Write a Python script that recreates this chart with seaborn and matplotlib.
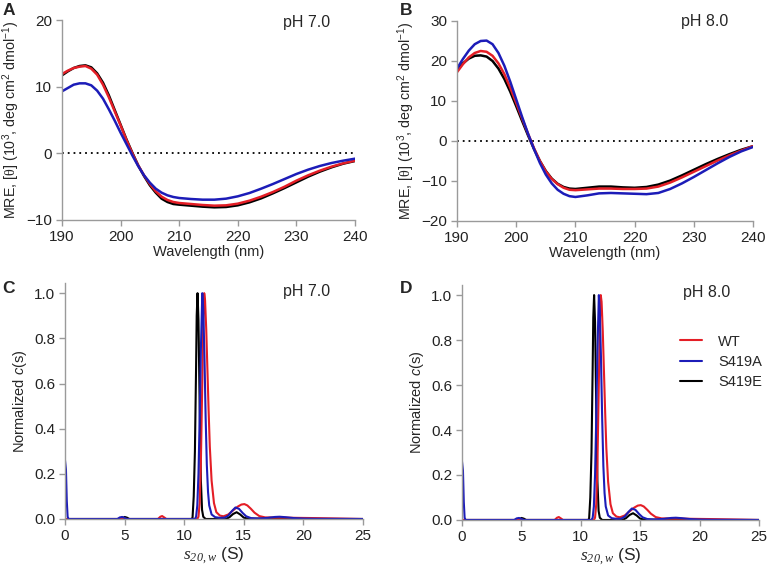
import numpy as np
import pandas as pd
import matplotlib
matplotlib.use("Agg")
import matplotlib.pyplot as plt
from matplotlib.lines import Line2D
import seaborn as sns

# ---------------- data ----------------
wavelength = [190, 191, 192, 193, 194, 195, 196, 197, 198, 199, 200, 201, 202, 203, 204,
              205, 206, 207, 208, 209, 210, 212, 214, 216, 218, 220, 222, 224, 226, 228,
              230, 232, 234, 236, 238, 240]

# pH 7.0 CD (MRE, 10^3 deg cm2 dmol-1)
cd7_wt = [11.9, 12.4, 12.8, 13.0, 13.1, 12.7, 11.8, 10.3, 8.4, 6.3, 4.2, 2.0, 0.0, -1.8, -3.3,
          -4.6, -5.7, -6.5, -7.0, -7.3, -7.45, -7.6, -7.75, -7.85, -7.8, -7.55, -7.1, -6.5, -5.8, -5.0,
          -4.1, -3.3, -2.6, -2.0, -1.5, -1.1]
cd7_s419a = [9.3, 9.8, 10.3, 10.5, 10.5, 10.2, 9.4, 8.2, 6.6, 4.9, 3.1, 1.4, -0.3, -1.9, -3.3,
             -4.4, -5.3, -5.9, -6.3, -6.55, -6.7, -6.85, -6.95, -6.95, -6.8, -6.45, -5.95, -5.3, -4.6, -3.85,
             -3.1, -2.45, -1.9, -1.45, -1.1, -0.8]
cd7_s419e = [11.7, 12.3, 12.8, 13.1, 13.2, 12.9, 12.0, 10.6, 8.7, 6.5, 4.3, 2.1, 0.1, -1.8, -3.4,
             -4.8, -5.9, -6.8, -7.3, -7.6, -7.7, -7.85, -8.0, -8.1, -8.05, -7.8, -7.35, -6.75, -6.0, -5.2,
             -4.35, -3.5, -2.75, -2.1, -1.55, -1.15]

# pH 8.0 CD
cd8_wt = [17.2, 19.2, 20.9, 22.0, 22.5, 22.3, 21.3, 19.4, 16.7, 13.3, 9.5, 5.6, 1.8, -1.8, -5.0,
          -7.6, -9.5, -10.8, -11.7, -12.2, -12.3, -12.1, -11.9, -11.9, -12.0, -12.0, -11.9, -11.4, -10.4, -9.1,
          -7.7, -6.3, -4.9, -3.6, -2.4, -1.3]
cd8_s419a = [18.1, 20.5, 22.6, 24.2, 25.0, 25.1, 24.2, 22.0, 18.8, 14.8, 10.4, 6.0, 1.8, -2.0, -5.5,
             -8.4, -10.6, -12.2, -13.2, -13.8, -14.0, -13.6, -13.1, -13.0, -13.1, -13.2, -13.3, -13.0, -12.0, -10.6,
             -9.0, -7.3, -5.6, -4.0, -2.6, -1.5]
cd8_s419e = [17.7, 19.4, 20.6, 21.3, 21.4, 21.1, 20.0, 18.1, 15.5, 12.3, 8.7, 5.0, 1.4, -2.0, -5.0,
             -7.5, -9.4, -10.7, -11.5, -11.9, -12.0, -11.7, -11.4, -11.4, -11.6, -11.7, -11.5, -10.9, -9.9, -8.6,
             -7.2, -5.8, -4.5, -3.3, -2.2, -1.3]

# c(s) distributions, pH 7.0
cs7_wt_s = [0, 7.8, 8.0, 8.15, 8.35, 8.5, 11.1, 11.2, 11.3, 11.4, 11.5, 11.6, 11.68, 11.75, 11.85,
            11.95, 12.05, 12.15, 12.3, 12.5, 12.7, 13.0, 13.3, 13.7, 14.1, 14.5, 14.8, 15.05, 15.3, 15.6,
            15.9, 16.3, 16.8, 17.5, 18.5, 19.5, 21.0, 23.0, 25.0]
cs7_wt_c = [0, 0, 0.01, 0.013, 0.006, 0, 0, 0.01, 0.07, 0.25, 0.55, 0.88, 1.0, 0.97, 0.84,
            0.66, 0.48, 0.32, 0.17, 0.07, 0.03, 0.015, 0.012, 0.02, 0.038, 0.055, 0.064, 0.066, 0.06, 0.045,
            0.028, 0.013, 0.007, 0.006, 0.006, 0.005, 0.004, 0.002, 0]
cs7_s419a_s = [0, 0.08, 0.15, 0.22, 0.3, 4.4, 4.6, 4.8, 5.0, 5.2, 10.9, 11.0, 11.1, 11.2, 11.3,
               11.4, 11.52, 11.6, 11.7, 11.8, 11.9, 12.0, 12.1, 12.3, 12.6, 13.0, 13.4, 13.7, 14.0, 14.3,
               14.6, 14.9, 15.2, 15.6, 16.2, 17.0, 17.6, 18.0, 18.5, 19.2, 20.0, 21.0, 25.0]
cs7_s419a_c = [0.26, 0.22, 0.08, 0.01, 0, 0, 0.007, 0.009, 0.005, 0, 0, 0.01, 0.06, 0.2, 0.45,
               0.75, 1.0, 0.93, 0.72, 0.45, 0.24, 0.12, 0.06, 0.02, 0.008, 0.005, 0.006, 0.015, 0.035, 0.051,
               0.045, 0.027, 0.012, 0.004, 0.002, 0.005, 0.009, 0.01, 0.008, 0.004, 0.002, 0.001, 0]
cs7_s419e_s = [0, 4.8, 5.0, 5.2, 5.4, 10.6, 10.7, 10.8, 10.9, 11.0, 11.05, 11.12, 11.2, 11.3, 11.4,
               11.5, 11.6, 11.8, 13.5, 13.8, 14.1, 14.4, 14.7, 15.0, 15.4, 16.5, 17.2, 18.0, 19.0, 20.0, 25.0]
cs7_s419e_c = [0, 0, 0.009, 0.006, 0, 0, 0.005, 0.1, 0.3, 0.68, 0.9, 1.0, 0.88, 0.5, 0.17,
               0.04, 0.01, 0, 0, 0.008, 0.022, 0.03, 0.02, 0.006, 0.001, 0.002, 0.005, 0.004, 0.002, 0, 0]

# c(s) distributions, pH 8.0
cs8_wt_s = [0, 7.8, 8.0, 8.15, 8.35, 8.5, 11.1, 11.2, 11.3, 11.4, 11.5, 11.6, 11.68, 11.75, 11.85,
            11.95, 12.05, 12.15, 12.3, 12.5, 12.7, 13.0, 13.3, 13.7, 14.1, 14.5, 14.8, 15.05, 15.3, 15.6,
            15.9, 16.3, 16.8, 17.5, 18.5, 19.5, 21.0, 23.0, 25.0]
cs8_wt_c = [0, 0, 0.01, 0.013, 0.006, 0, 0, 0.01, 0.07, 0.25, 0.55, 0.88, 1.0, 0.97, 0.84,
            0.66, 0.48, 0.32, 0.17, 0.07, 0.03, 0.015, 0.012, 0.02, 0.038, 0.055, 0.064, 0.066, 0.06, 0.045,
            0.028, 0.013, 0.007, 0.006, 0.006, 0.005, 0.004, 0.002, 0]
cs8_s419a_s = [0, 0.08, 0.15, 0.22, 0.3, 4.4, 4.6, 4.8, 5.0, 5.2, 10.9, 11.0, 11.1, 11.2, 11.3,
               11.4, 11.52, 11.6, 11.7, 11.8, 11.9, 12.0, 12.1, 12.3, 12.6, 13.0, 13.4, 13.7, 14.0, 14.3,
               14.6, 14.9, 15.2, 15.6, 16.2, 17.0, 17.6, 18.0, 18.5, 19.2, 20.0, 21.0, 25.0]
cs8_s419a_c = [0.26, 0.22, 0.08, 0.01, 0, 0, 0.007, 0.009, 0.005, 0, 0, 0.01, 0.06, 0.2, 0.45,
               0.75, 1.0, 0.93, 0.72, 0.45, 0.24, 0.12, 0.06, 0.02, 0.008, 0.005, 0.006, 0.015, 0.035, 0.051,
               0.045, 0.027, 0.012, 0.004, 0.002, 0.005, 0.009, 0.01, 0.008, 0.004, 0.002, 0.001, 0]
cs8_s419e_s = [0, 4.8, 5.0, 5.2, 5.4, 10.6, 10.7, 10.8, 10.9, 11.0, 11.05, 11.12, 11.2, 11.3, 11.4,
               11.5, 11.6, 11.8, 13.5, 13.8, 14.1, 14.4, 14.7, 15.0, 15.4, 16.5, 17.2, 18.0, 19.0, 20.0, 25.0]
cs8_s419e_c = [0, 0, 0.009, 0.006, 0, 0, 0.005, 0.1, 0.3, 0.68, 0.9, 1.0, 0.88, 0.5, 0.17,
               0.04, 0.01, 0, 0, 0.008, 0.022, 0.03, 0.02, 0.006, 0.001, 0.002, 0.005, 0.004, 0.002, 0, 0]

variants = ["WT", "S419A", "S419E"]
colors = {"WT": "#e41e26", "S419A": "#1c1cb8", "S419E": "#000000"}
draw_order = ["S419E", "WT", "S419A"]

# ---------------- style ----------------
sns.set_theme(style="ticks")
plt.rcParams["font.family"] = ["Liberation Sans", "DejaVu Sans"]
plt.rcParams["mathtext.fontset"] = "custom"
plt.rcParams["mathtext.rm"] = "Liberation Sans"
plt.rcParams["mathtext.it"] = "Liberation Sans:italic"
plt.rcParams["mathtext.cal"] = "Liberation Serif:italic"
plt.rcParams["mathtext.sf"] = "Liberation Serif"

fig = plt.figure(figsize=(7.7, 5.75), dpi=100)
axA = fig.add_axes([0.0805, 0.6174, 0.3805, 0.3478])
axB = fig.add_axes([0.5935, 0.6157, 0.3845, 0.3478])
axC = fig.add_axes([0.0844, 0.0974, 0.3870, 0.4104])
axD = fig.add_axes([0.6000, 0.0957, 0.3857, 0.4087])

spine_col = "#9a9a9a"
tick_fs = 11
label_fs = 10.5


def style(ax):
    for s in ["top", "right"]:
        ax.spines[s].set_visible(False)
    for s in ["left", "bottom"]:
        ax.spines[s].set_color(spine_col)
        ax.spines[s].set_linewidth(1.0)
    ax.tick_params(axis="both", direction="out", length=4, width=1.0, color=spine_col,
                   labelsize=tick_fs, labelcolor="#222222", pad=3)


cd_sets = [
    (axA, {"WT": cd7_wt, "S419A": cd7_s419a, "S419E": cd7_s419e}, (-10, 20), [-10, 0, 10, 20], "pH 7.0", 0.99),
    (axB, {"WT": cd8_wt, "S419A": cd8_s419a, "S419E": cd8_s419e}, (-20, 30), [-20, -10, 0, 10, 20, 30], "pH 8.0", 0.995),
]
for ax, series, ylim, yt, title, ty in cd_sets:
    rows = []
    for name, vals in series.items():
        for xi, yi in zip(wavelength, vals):
            rows.append({"x": xi, "y": yi, "variant": name})
    df = pd.DataFrame(rows)
    for v in draw_order:
        sns.lineplot(data=df[df.variant == v], x="x", y="y", color=colors[v], lw=1.8,
                     ax=ax, legend=False, estimator=None, sort=False)
    ax.plot([190, 240], [0, 0], ls=(0, (1, 2.2)), color="black", lw=1.3, zorder=0)
    ax.set_xlim(190, 240)
    ax.set_ylim(*ylim)
    ax.set_xticks([190, 200, 210, 220, 230, 240])
    ax.set_yticks(yt)
    ax.set_xlabel("Wavelength (nm)", fontsize=label_fs, labelpad=1)
    ax.set_ylabel(r"MRE, [$\mathsf{\theta}$] (10$^3$, deg cm$^2$ dmol$^{-1}$)", fontsize=10.3, labelpad=3)
    style(ax)
    ax.text(0.755, ty, title, transform=ax.transAxes, fontsize=11.5, ha="left", va="center")

cs_sets = [
    (axC, {"WT": (cs7_wt_s, cs7_wt_c), "S419A": (cs7_s419a_s, cs7_s419a_c), "S419E": (cs7_s419e_s, cs7_s419e_c)}, "pH 7.0", 0.73, 0.962),
    (axD, {"WT": (cs8_wt_s, cs8_wt_c), "S419A": (cs8_s419a_s, cs8_s419a_c), "S419E": (cs8_s419e_s, cs8_s419e_c)}, "pH 8.0", 0.744, 0.967),
]
for ax, series, title, tx, ty in cs_sets:
    rows = []
    for name, (xs, ys) in series.items():
        for xi, yi in zip(xs, ys):
            rows.append({"x": xi, "y": yi, "variant": name})
    df = pd.DataFrame(rows)
    for v in draw_order:
        sns.lineplot(data=df[df.variant == v], x="x", y="y", color=colors[v], lw=1.5,
                     ax=ax, legend=False, estimator=None, sort=False)
    ax.set_xlim(0, 25)
    ax.set_ylim(0, 1.045)
    ax.set_xticks([0, 5, 10, 15, 20, 25])
    ax.set_yticks([0.0, 0.2, 0.4, 0.6, 0.8, 1.0])
    ax.set_yticklabels(["0.0", "0.2", "0.4", "0.6", "0.8", "1.0"])
    ax.set_xlabel(r"$\mathcal{s}_{\mathcal{20,w}}$ (S)", fontsize=12.5, labelpad=2)
    ax.set_ylabel(r"Normalized $c$(s)", fontsize=label_fs, labelpad=4)
    style(ax)
    ax.text(tx, ty, title, transform=ax.transAxes, fontsize=11.5, ha="left", va="center")

# legend in D
handles = [Line2D([0], [0], color=colors[v], lw=1.5) for v in variants]
axD.legend(handles, variants, loc="upper left", bbox_to_anchor=(0.69, 0.845), frameon=False,
           fontsize=10.5, handlelength=1.5, handletextpad=1.1, labelspacing=0.42)

# panel letters
for letter, (x, y) in {"A": (3, 3), "B": (400, 3), "C": (2, 281), "D": (400, 281)}.items():
    fig.text(x / 770, 1 - y / 575, letter, fontsize=12.5, fontweight="bold", ha="left", va="top")

fig.savefig("out.png", dpi=100)
